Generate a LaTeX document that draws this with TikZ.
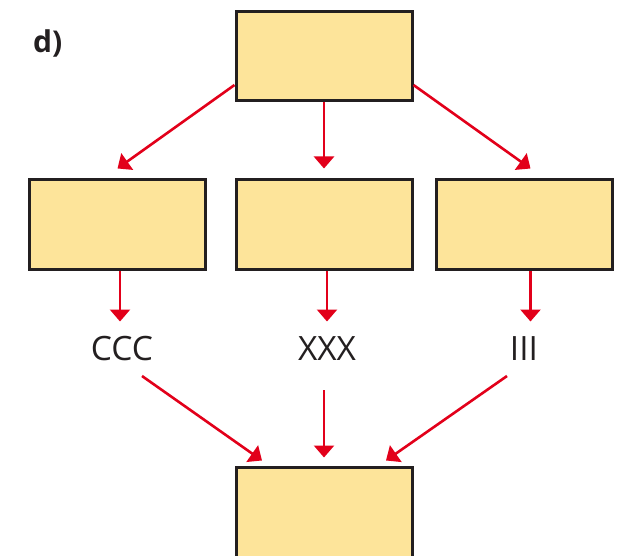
\documentclass[tikz,border=0pt]{standalone}
\usepackage{fontspec}
\setmainfont{Open Sans}
\usetikzlibrary{arrows.meta,calc}
\definecolor{boxfill}{HTML}{FDE49A}
\definecolor{boxline}{HTML}{231F20}
\definecolor{arrred}{HTML}{E2001A}
\tikzset{
  box/.style={draw=boxline, fill=boxfill, line width=3pt, minimum width=176pt, minimum height=89pt, inner sep=0pt},
  lbl/.style={inner sep=0pt, font=\fontsize{33.5}{33.5}\selectfont, text=boxline},
  conn/.style={draw=arrred, line width=2.6pt, -{Triangle[width=20pt,length=12pt]}},
}
\begin{document}
\begin{tikzpicture}[x=1pt,y=1pt]
\useasboundingbox (0,0) rectangle (626,555);
\begin{scope}
\clip (0,0) rectangle (626,555);
\node[box] (top) at (324,499) {};
\node[box] (l) at (117.5,330.5) {};
\node[box] (m) at (324,330.5) {};
\node[box] (r) at (524,330.5) {};
\node[box, minimum height=92pt] (bot) at (324,42) {};
\end{scope}
\node[inner sep=0pt, font=\fontsize{30}{30}\selectfont\bfseries, text=boxline, anchor=base west] (d) at (33,502) {d)};
\node[lbl, anchor=base] (ccc) at (122,195) {CCC};
\node[lbl, anchor=base] (xxx) at (327,195) {XXX};
\node[lbl, anchor=base] (iii) at (524,195) {III};
% top arrows
\draw[conn] ($(top.south west)+(0,17)$) -- ($(l.north)+(0,10)$);
\draw[conn] (top.south) -- ($(m.north)+(0,10)$);
\draw[conn] ($(top.south east)+(0,17)$) -- ($(r.north)+(6.5,10)$);
% middle arrows
\draw[conn] ($(l.south)+(2.5,0)$) -- ($(l.south)+(2.5,-51)$);
\draw[conn] ($(m.south)+(3,0)$) -- ($(m.south)+(3,-51)$);
\draw[conn] ($(r.south)+(6.5,0)$) -- ($(r.south)+(6.5,-51)$);
% bottom arrows
\draw[conn] ($(ccc.base)+(20,-16)$) -- ($(bot.north)+(-62,5)$);
\draw[conn] ($(xxx.base)+(-3,-30)$) -- ($(bot.north)+(0,8)$);
\draw[conn] ($(iii.base)+(-17,-16)$) -- ($(bot.north)+(62,5)$);
\end{tikzpicture}
\end{document}
